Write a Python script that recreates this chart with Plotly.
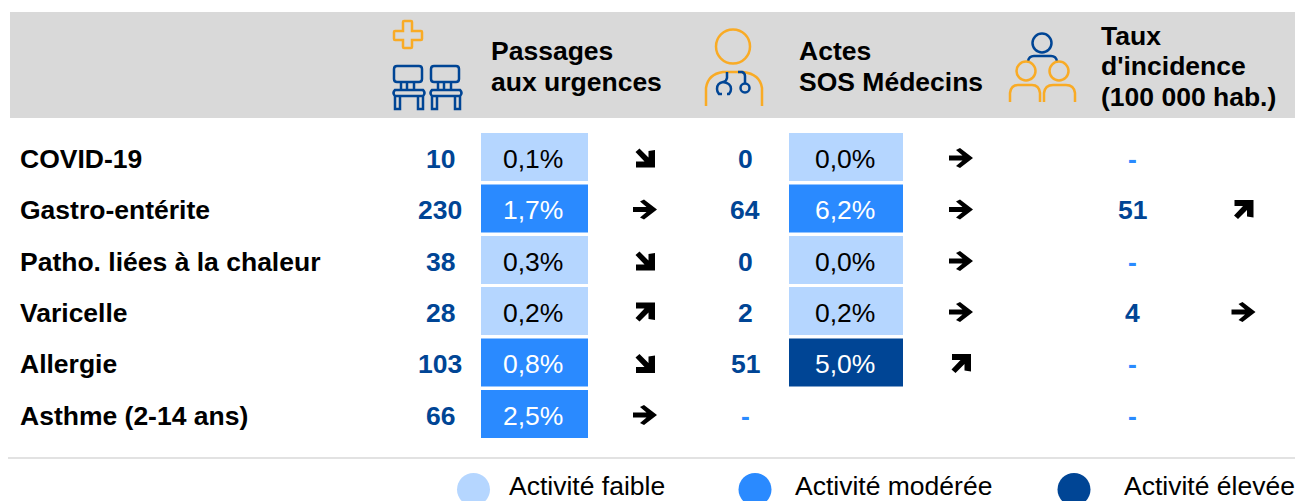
import plotly.graph_objects as go

W, H = 1295, 501
DARK, MID, LIGHT = "#004595", "#2a8aff", "#b5d6ff"
ORANGE, GREY = "#f9ab25", "#d9d9d9"
LEVEL_COLOURS = {"faible": LIGHT, "moderee": MID, "elevee": DARK}

categories = ["COVID-19", "Gastro-entérite", "Patho. liées à la chaleur", "Varicelle", "Allergie", "Asthme (2-14 ans)"]
er_counts = ["10", "230", "38", "28", "103", "66"]
er_share = ["0,1%", "1,7%", "0,3%", "0,2%", "0,8%", "2,5%"]
er_level = ["faible", "moderee", "faible", "faible", "moderee", "moderee"]
er_trend = ["down", "flat", "down", "up", "down", "flat"]
sos_counts = ["0", "64", "0", "2", "51", "-"]
sos_share = ["0,0%", "6,2%", "0,0%", "0,2%", "5,0%", None]
sos_level = ["faible", "moderee", "faible", "faible", "elevee", None]
sos_trend = ["flat", "flat", "flat", "flat", "up", None]
incidence = ["-", "51", "-", "4", "-", "-"]
incidence_trend = [None, "up", None, "flat", None, None]
legend_labels = ["Activité faible", "Activité modérée", "Activité élevée"]
legend_levels = ["faible", "moderee", "elevee"]

row_y = [157, 208.5, 260, 311, 362.5, 414]
FONT = "Liberation Sans"
SIZE = 26.5
annotations, shapes = [], []


def text(x, y, s, size=SIZE, color="black", bold=False, anchor="center"):
    annotations.append(dict(
        x=x, y=y, xref="x", yref="y", text=f"<b>{s}</b>" if bold else s, showarrow=False,
        xanchor=anchor, yanchor="middle", font=dict(family=FONT, size=size, color=color),
        xshift=-2 if anchor == "left" else -1,
    ))


def stroke(path, color, width=2.5):
    shapes.append(dict(type="path", path=path, xref="x", yref="y", line=dict(color=color, width=width), layer="above"))


def circle(cx, cy, r, color, width=2.5):
    shapes.append(dict(type="circle", x0=cx - r, x1=cx + r, y0=cy - r, y1=cy + r, xref="x", yref="y",
                       line=dict(color=color, width=width), layer="above"))


def arrow(cx, cy, kind):
    if kind == "flat":
        p = [(-12, -2.5), (1.5, -2.5), (-5, -8), (-1, -10), (12, 0), (-1, 10), (-5, 8), (1.5, 2.5), (-12, 2.5)]
    elif kind == "down":
        p = [(-9.5, -6), (-5.5, -9.5), (3.5, -0.5), (3.5, -7), (10, -8), (10, 9.5), (-9, 9.5), (-9, 3.5), (-0.5, 3.5)]
    else:
        p = [(-9.5, 6), (-5.5, 9.5), (3.5, 0.5), (3.5, 7), (10, 8), (10, -9.5), (-9, -9.5), (-9, -3.5), (-0.5, -3.5)]
    d = "M" + " L".join(f"{cx + a:.1f},{cy + b:.1f}" for a, b in p) + " Z"
    shapes.append(dict(type="path", path=d, xref="x", yref="y", fillcolor="black", line=dict(width=0), layer="above"))


fig = go.Figure()
for center, width, levels in [(534.5, 107, er_level), (846, 114, sos_level)]:
    for lv, colour in LEVEL_COLOURS.items():
        idx = [i for i, v in enumerate(levels) if v == lv]
        if idx:
            fig.add_bar(x=[center] * len(idx), y=[48] * len(idx), base=[row_y[i] - 24 for i in idx],
                        width=width, marker=dict(color=colour, line=dict(width=0)),
                        showlegend=False, hoverinfo="skip")

for i, y in enumerate(row_y):
    ty = y + 1.5
    text(20, ty, categories[i], bold=True, anchor="left")
    text(441, ty, er_counts[i], color=DARK, bold=True)
    text(534, ty, er_share[i], color="black" if er_level[i] == "faible" else "white")
    arrow(645, y + 1, er_trend[i])
    text(746, ty, sos_counts[i], color=DARK if sos_counts[i] != "-" else MID, bold=True)
    if sos_share[i]:
        text(846, ty, sos_share[i], color="black" if sos_level[i] == "faible" else "white")
        arrow(961, y + 1, sos_trend[i])
    text(1133, ty, incidence[i], color=DARK if incidence[i] != "-" else MID, bold=True)
    if incidence_trend[i]:
        arrow(1243.5, y + 1, incidence_trend[i])

# Header
shapes.insert(0, dict(type="rect", x0=10, x1=1295, y0=12, y1=118, xref="x", yref="y", fillcolor=GREY,
                      line=dict(width=0), layer="below"))
text(491, 50.5, "Passages", bold=True, anchor="left")
text(491, 81.5, "aux urgences", bold=True, anchor="left")
text(799, 50.5, "Actes", bold=True, anchor="left")
text(799, 81.5, "SOS Médecins", bold=True, anchor="left")
text(1101, 35.5, "Taux", bold=True, anchor="left")
text(1101, 65.5, "d'incidence", bold=True, anchor="left")
text(1101, 96.5, "(100 000 hab.)", bold=True, anchor="left")

# Icon: cross
stroke("M404,21 H411 Q412,21 412,22 V31 H421 Q422,31 422,32 V39 Q422,40 421,40 H412 V47 Q412,48 411,48 H404 "
       "Q403,48 403,47 V40 H395 Q394,40 394,39 V32 Q394,31 395,31 H403 V22 Q403,21 404,21 Z", ORANGE)
# Icon: chairs
for ox in [0, 37]:
    x = lambda v: v + ox
    stroke(f"M{x(397)},66 H{x(419)} Q{x(422)},66 {x(422)},69 V79 Q{x(422)},82 {x(419)},82 H{x(397)} "
           f"Q{x(394)},82 {x(394)},79 V69 Q{x(394)},66 {x(397)},66 Z "
           f"M{x(401)},82 V90 M{x(407)},82 V90 M{x(414)},82 V90 "
           f"M{x(395)},90 H{x(423)} Q{x(426)},93 {x(423)},96 H{x(395)} Q{x(392)},93 {x(395)},90 Z "
           f"M{x(395)},96 V109 H{x(400)} V96 M{x(418)},96 V109 H{x(423)} V96", DARK)
# Icon: doctor
circle(733, 46.5, 17, ORANGE)
stroke("M706,106 V88 Q708,74 723,72 H743 Q760,74 762,88 V106", ORANGE)
stroke("M727,72 V78 Q726,82 723,82 Q717,83 717,89 Q717,92 719,94 H722 M727,94 H729 Q731,92 731,89 Q731,83 723,82", DARK)
stroke("M738,72 H742 Q745,73 745,76 V83", DARK)
circle(745, 88, 4.5, DARK)
# Icon: people
circle(1042, 43, 9.5, DARK)
stroke("M1028,61 Q1029,56 1034,56 H1051 Q1056,56 1057,61", DARK)
circle(1026, 71, 9.5, ORANGE)
circle(1059, 71, 9.5, ORANGE)
stroke("M1010,102 V93 Q1011,85 1018,85 H1032 Q1039,85 1040,93 V102", ORANGE)
stroke("M1044,102 V93 Q1045,85 1053,85 H1066 Q1074,85 1075,93 V102", ORANGE)

# Rule and legend
shapes.append(dict(type="line", x0=8, x1=1295, y0=458, y1=458, xref="x", yref="y", line=dict(color=GREY, width=1.5)))
for cx, tx, lv, lab in zip([473.5, 755, 1074], [509, 795, 1124], legend_levels, legend_labels):
    shapes.append(dict(type="circle", x0=cx - 16.5, x1=cx + 16.5, y0=473, y1=506, xref="x", yref="y",
                       fillcolor=LEVEL_COLOURS[lv], line=dict(width=0)))
    text(tx, 486, lab, anchor="left")

fig.update_layout(
    width=W, height=H, margin=dict(l=0, r=0, t=0, b=0), paper_bgcolor="white", plot_bgcolor="white",
    xaxis=dict(range=[0, W], visible=False, fixedrange=True),
    yaxis=dict(range=[H, 0], visible=False, fixedrange=True),
    shapes=shapes, annotations=annotations, barmode="overlay", showlegend=False,
)
fig.write_html("out.html", config={"displayModeBar": False},
               post_script="document.body.style.margin='0';document.body.style.overflow='hidden';")
